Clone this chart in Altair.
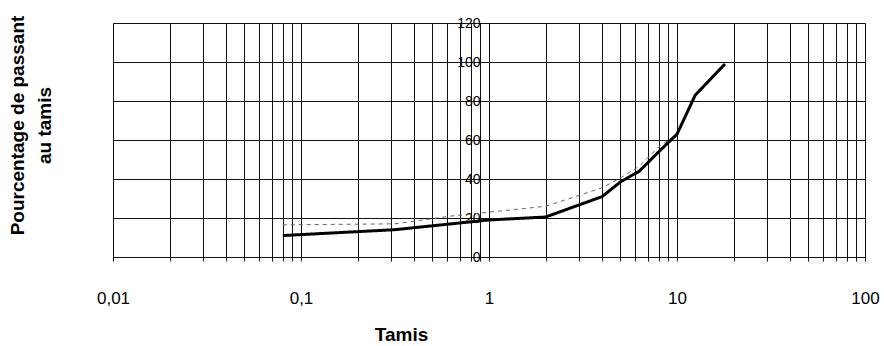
import altair as alt
import pandas as pd

# Sieve openings (mm)
sieves = [0.08, 0.315, 0.63, 1, 2, 4, 5, 6.3, 8, 10, 12.5, 18]
# Percentage passing
solid_curve = [11, 14, 17, 19, 20.5, 31, 38.5, 44, 54, 63, 83, 99]
dashed_curve = [16.5, 17, 21, 23, 26, 35.5, 40.5, 46.5, 56.5, 63, 83, 99]

x_decades = [0.01, 0.1, 1, 10, 100]
y_ticks = [0, 20, 40, 60, 80, 100, 120]

x_grid = []
for d in x_decades[:-1]:
    for k in range(1, 10):
        x_grid.append(round(k * d, 10))
x_grid.append(100)

rows = []
for s, v in zip(sieves, dashed_curve):
    rows.append({"tamis": s, "passant": v, "serie": "B", "ordre": 0})
for s, v in zip(sieves, solid_curve):
    rows.append({"tamis": s, "passant": v, "serie": "A", "ordre": 1})
df = pd.DataFrame(rows)

W, H = 752, 234
FONT = "Liberation Sans"

x_enc = alt.X(
    "tamis:Q",
    scale=alt.Scale(type="log", domain=[0.01, 100]),
    axis=alt.Axis(
        values=x_grid,
        grid=True,
        gridColor="#111111",
        gridWidth=1,
        gridOpacity=1,
        domainColor="#111111",
        tickColor="#111111",
        tickSize=4,
        labelExpr="indexof([0.01, 0.1, 1, 10, 100], datum.value) >= 0 ? replace(format(datum.value, ''), '.', ',') : ''",
        labelFont=FONT,
        labelFontSize=17,
        labelColor="#000000",
        labelPadding=29,
        labelBaseline="top",
        labelFlush=False,
        labelOverlap=False,
        title="Tamis",
        titleFont=FONT,
        titleFontSize=19,
        titleFontWeight="bold",
        titleColor="#000000",
        titleX=288,
        titleY=77,
        titleBaseline="middle",
        titleAlign="center",
    ),
)

y_enc = alt.Y(
    "passant:Q",
    scale=alt.Scale(domain=[0, 120], nice=False),
    axis=alt.Axis(
        values=y_ticks,
        offset=-W / 2,
        grid=True,
        gridColor="#111111",
        gridWidth=1,
        gridOpacity=1,
        domainColor="#111111",
        tickSize=0,
        labelFont=FONT,
        labelFontSize=14,
        labelColor="#000000",
        labelPadding=9,
        title=["Pourcentage de passant", "au tamis"],
        titleFont=FONT,
        titleFontSize=19,
        titleFontWeight="bold",
        titleColor="#000000",
        titleAngle=270,
        titleLineHeight=27,
        titleBaseline="middle",
        titleAlign="center",
        titleX=-472,
        titleY=102,
    ),
)

chart = (
    alt.Chart(df)
    .mark_line(interpolate="linear")
    .encode(
        x=x_enc,
        y=y_enc,
        detail="serie:N",
        order="ordre:Q",
        color=alt.Color("serie:N", scale=alt.Scale(domain=["A", "B"], range=["#000000", "#666666"]), legend=None),
        strokeWidth=alt.StrokeWidth("serie:N", scale=alt.Scale(domain=["A", "B"], range=[3, 1]), legend=None),
        strokeDash=alt.StrokeDash("serie:N", scale=alt.Scale(domain=["A", "B"], range=[[1, 0], [4, 4]]), legend=None),
    )
    .properties(
        width=W,
        height=H,
        autosize=alt.AutoSizeParams(type="none"),
        padding={"left": 113, "top": 23, "right": 19, "bottom": 89},
    )
    .configure_view(stroke=None)
    .configure(background="#ffffff")
)

chart.save("out.html", embed_options={"renderer": "svg", "actions": False})
